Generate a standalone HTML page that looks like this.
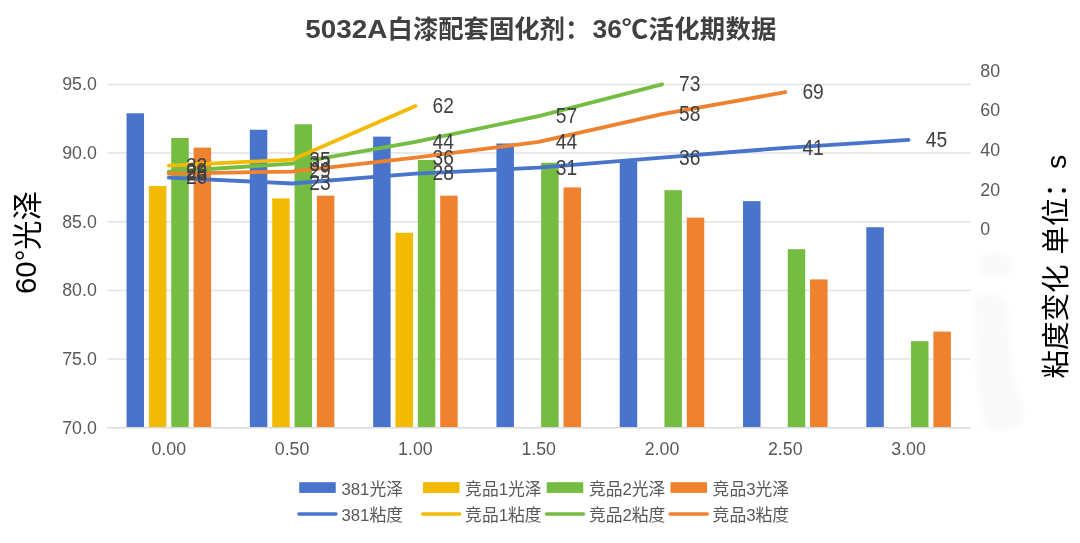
<!DOCTYPE html>
<html lang="zh-CN">
<head>
<meta charset="utf-8">
<title>5032A白漆配套固化剂：36℃活化期数据</title>
<style>
html,body{margin:0;padding:0;background:#fff;}
body{width:1080px;height:543px;overflow:hidden;}
svg{display:block;font-family:"Liberation Sans", "Noto Sans CJK SC", sans-serif;}
.ax{font-size:17.8px;fill:#595959;}
.dl{font-size:22px;fill:#404040;}
.lg{font-size:16.8px;fill:#595959;}
.ttl{font-size:25.33px;font-weight:bold;fill:#404040;}
.yt{font-size:29.3px;fill:#000;}
 .yr{font-size:28.5px;fill:#000;word-spacing:2px;}
</style>
</head>
<body>
<svg width="1080" height="543" viewBox="0 0 1080 543">
<rect width="1080" height="543" fill="#ffffff"/>
<text class="ttl" y="37.5"><tspan x="305.3" textLength="82.1" lengthAdjust="spacingAndGlyphs">5032A</tspan><tspan x="387.6">白漆配套固化剂：</tspan><tspan x="592.5" textLength="55.7" lengthAdjust="spacingAndGlyphs">36℃</tspan><tspan x="648.6" textLength="127.8" lengthAdjust="spacing">活化期数据</tspan></text>
<g stroke="#e2e2e2" stroke-width="1.5" fill="none">
<line x1="107.4" y1="84.45" x2="970.6" y2="84.45"/>
<line x1="107.4" y1="153.10" x2="970.6" y2="153.10"/>
<line x1="107.4" y1="221.75" x2="970.6" y2="221.75"/>
<line x1="107.4" y1="290.40" x2="970.6" y2="290.40"/>
<line x1="107.4" y1="359.05" x2="970.6" y2="359.05"/>
</g>
<g>
<rect x="126.53" y="113.28" width="17.50" height="314.42" fill="#4874CB"/>
<rect x="249.83" y="129.76" width="17.50" height="297.94" fill="#4874CB"/>
<rect x="373.12" y="136.62" width="17.50" height="291.08" fill="#4874CB"/>
<rect x="496.43" y="143.49" width="17.50" height="284.21" fill="#4874CB"/>
<rect x="619.73" y="161.34" width="17.50" height="266.36" fill="#4874CB"/>
<rect x="743.02" y="201.15" width="17.50" height="226.55" fill="#4874CB"/>
<rect x="866.32" y="227.24" width="17.50" height="200.46" fill="#4874CB"/>
<rect x="148.88" y="186.05" width="17.50" height="241.65" fill="#F2BA02"/>
<rect x="272.18" y="198.41" width="17.50" height="229.29" fill="#F2BA02"/>
<rect x="395.48" y="232.73" width="17.50" height="194.97" fill="#F2BA02"/>
<rect x="171.23" y="138.00" width="17.50" height="289.70" fill="#75BD42"/>
<rect x="294.53" y="124.27" width="17.50" height="303.43" fill="#75BD42"/>
<rect x="417.82" y="159.96" width="17.50" height="267.74" fill="#75BD42"/>
<rect x="541.13" y="162.71" width="17.50" height="264.99" fill="#75BD42"/>
<rect x="664.43" y="190.17" width="17.50" height="237.53" fill="#75BD42"/>
<rect x="787.73" y="249.21" width="17.50" height="178.49" fill="#75BD42"/>
<rect x="911.02" y="341.20" width="17.50" height="86.50" fill="#75BD42"/>
<rect x="193.58" y="147.61" width="17.50" height="280.09" fill="#EE822F"/>
<rect x="316.88" y="195.66" width="17.50" height="232.04" fill="#EE822F"/>
<rect x="440.18" y="195.66" width="17.50" height="232.04" fill="#EE822F"/>
<rect x="563.48" y="187.42" width="17.50" height="240.28" fill="#EE822F"/>
<rect x="686.78" y="217.63" width="17.50" height="210.07" fill="#EE822F"/>
<rect x="810.08" y="279.42" width="17.50" height="148.28" fill="#EE822F"/>
<rect x="933.38" y="331.59" width="17.50" height="96.11" fill="#EE822F"/>
</g>
<line x1="107.4" y1="427.7" x2="970.6" y2="427.7" stroke="#d9d9d9" stroke-width="1.5"/>
<g class="ax" text-anchor="end">
<text x="96.8" y="90.4">95.0</text>
<text x="96.8" y="159.1">90.0</text>
<text x="96.8" y="227.7">85.0</text>
<text x="96.8" y="296.4">80.0</text>
<text x="96.8" y="365.0">75.0</text>
<text x="96.8" y="433.7">70.0</text>
</g>
<g class="ax">
<text x="980.3" y="76.6">80</text>
<text x="980.3" y="116.3">60</text>
<text x="980.3" y="156.0">40</text>
<text x="980.3" y="195.7">20</text>
<text x="980.3" y="235.4">0</text>
</g>
<g class="ax" text-anchor="middle">
<text x="168.8" y="454.7">0.00</text>
<text x="292.1" y="454.7">0.50</text>
<text x="415.4" y="454.7">1.00</text>
<text x="538.7" y="454.7">1.50</text>
<text x="662.0" y="454.7">2.00</text>
<text x="785.3" y="454.7">2.50</text>
<text x="908.6" y="454.7">3.00</text>
</g>
<g fill="none" stroke-width="3.8" stroke-linecap="round" stroke-linejoin="round">
<polyline stroke="#4874CB" points="168.8,177.6 292.1,183.5 415.4,173.6 538.7,167.7 662.0,157.7 785.3,147.8 908.6,139.9"/>
<polyline stroke="#F2BA02" points="168.8,165.7 292.1,159.7 415.4,106.1"/>
<polyline stroke="#75BD42" points="168.8,171.6 292.1,163.7 415.4,141.9 538.7,116.1 662.0,84.3"/>
<polyline stroke="#EE822F" points="168.8,173.6 292.1,171.6 415.4,157.7 538.7,141.9 662.0,114.1 785.3,92.2"/>
</g>
<g class="dl">
<text x="185.9" y="184.4" textLength="21.4" lengthAdjust="spacingAndGlyphs">26</text>
<text x="309.2" y="190.3" textLength="21.4" lengthAdjust="spacingAndGlyphs">23</text>
<text x="432.5" y="180.4" textLength="21.4" lengthAdjust="spacingAndGlyphs">28</text>
<text x="555.8" y="174.5" textLength="21.4" lengthAdjust="spacingAndGlyphs">31</text>
<text x="679.1" y="164.5" textLength="21.4" lengthAdjust="spacingAndGlyphs">36</text>
<text x="802.4" y="154.6" textLength="21.4" lengthAdjust="spacingAndGlyphs">41</text>
<text x="925.7" y="146.7" textLength="21.4" lengthAdjust="spacingAndGlyphs">45</text>
<text x="185.9" y="172.5" textLength="21.4" lengthAdjust="spacingAndGlyphs">32</text>
<text x="309.2" y="166.5" textLength="21.4" lengthAdjust="spacingAndGlyphs">35</text>
<text x="432.5" y="112.9" textLength="21.4" lengthAdjust="spacingAndGlyphs">62</text>
<text x="185.9" y="178.4" textLength="21.4" lengthAdjust="spacingAndGlyphs">29</text>
<text x="309.2" y="170.5" textLength="21.4" lengthAdjust="spacingAndGlyphs">33</text>
<text x="432.5" y="148.7" textLength="21.4" lengthAdjust="spacingAndGlyphs">44</text>
<text x="555.8" y="122.9" textLength="21.4" lengthAdjust="spacingAndGlyphs">57</text>
<text x="679.1" y="91.1" textLength="21.4" lengthAdjust="spacingAndGlyphs">73</text>
<text x="185.9" y="180.4" textLength="21.4" lengthAdjust="spacingAndGlyphs">28</text>
<text x="309.2" y="178.4" textLength="21.4" lengthAdjust="spacingAndGlyphs">29</text>
<text x="432.5" y="164.5" textLength="21.4" lengthAdjust="spacingAndGlyphs">36</text>
<text x="555.8" y="148.7" textLength="21.4" lengthAdjust="spacingAndGlyphs">44</text>
<text x="679.1" y="120.9" textLength="21.4" lengthAdjust="spacingAndGlyphs">58</text>
<text x="802.4" y="99.0" textLength="21.4" lengthAdjust="spacingAndGlyphs">69</text>
</g>
<defs><filter id="bl" x="-30%" y="-30%" width="160%" height="160%"><feGaussianBlur stdDeviation="2.5"/></filter></defs>
<g fill="#f9f9f9" filter="url(#bl)">
<rect x="978" y="253" width="35" height="24" rx="12"/>
<path d="M974 298 Q990 290 1006 298 L1010 340 Q1012 380 1022 405 Q1028 425 1010 430 L985 430 Q978 400 976 360 Z"/>
</g>
<text class="yt" text-anchor="middle" transform="translate(37.8,242.5) rotate(-90)"><tspan dy="-2.2">60°</tspan><tspan dy="2.2">光泽</tspan></text>
<text class="yr" text-anchor="middle" transform="translate(1066,266.6) rotate(-90)">粘度变化 单位：s</text>
<g class="lg">
<rect x="299.25" y="482.2" width="36.5" height="10.7" fill="#4874CB"/>
<text x="341.4" y="494.6">381光泽</text>
<line x1="298.95" y1="514" x2="335.95" y2="514" stroke="#4874CB" stroke-width="3.5" stroke-linecap="round"/>
<text x="341.4" y="520.9">381粘度</text>
<rect x="423.00" y="482.2" width="36.5" height="10.7" fill="#F2BA02"/>
<text x="465.1" y="494.6">竞品1光泽</text>
<line x1="422.70" y1="514" x2="459.70" y2="514" stroke="#F2BA02" stroke-width="3.5" stroke-linecap="round"/>
<text x="465.1" y="520.9">竞品1粘度</text>
<rect x="546.75" y="482.2" width="36.5" height="10.7" fill="#75BD42"/>
<text x="588.9" y="494.6">竞品2光泽</text>
<line x1="546.45" y1="514" x2="583.45" y2="514" stroke="#75BD42" stroke-width="3.5" stroke-linecap="round"/>
<text x="588.9" y="520.9">竞品2粘度</text>
<rect x="670.50" y="482.2" width="36.5" height="10.7" fill="#EE822F"/>
<text x="712.6" y="494.6">竞品3光泽</text>
<line x1="670.20" y1="514" x2="707.20" y2="514" stroke="#EE822F" stroke-width="3.5" stroke-linecap="round"/>
<text x="712.6" y="520.9">竞品3粘度</text>
</g>
</svg>
</body>
</html>
